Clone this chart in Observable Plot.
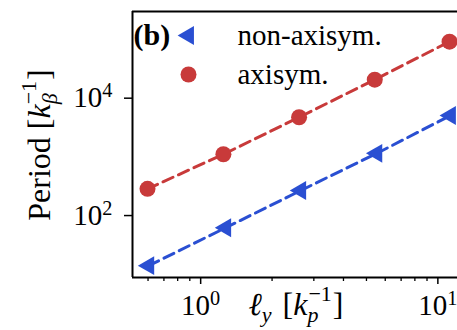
<!DOCTYPE html>
<html>
<head>
<meta charset="utf-8">
<script src="https://cdn.jsdelivr.net/npm/d3@7"></script>
<script src="https://cdn.jsdelivr.net/npm/@observablehq/plot@0.6"></script>
<style>
  html, body { margin: 0; padding: 0; background: white; overflow: hidden; }
</style>
</head>
<body>
<div id="chart"></div>
<script>
// ---- data ----
const xAxisym = [0.597, 1.247, 2.60, 5.42, 11.2];
const yAxisym = [285, 1107, 4730, 20700, 92000];
const xNonAxisym = [0.604, 1.275, 2.64, 5.53, 11.3];
const yNonAxisym = [14, 62, 267, 1150, 5060];

const legendLabels = ["non-axisym.", "axisym."];
const panelLabel = "(b)";
const xMajorTicks = [1, 10];
const xMinorTicks = [0.6, 0.7, 0.8, 0.9, 2, 3, 4, 5, 6, 7, 8, 9];
const yMajorTicks = [1e2, 1e4];
const xDomain = [0.516, 12.1];
const yDomain = [8.8, 3.0e5];

const RED = "#c83a3a";
const BLUE = "#2a4fd2";
const FONT = "Liberation Serif, DejaVu Serif, serif";

const axisym = xAxisym.map((x, i) => ({x, y: yAxisym[i]}));
const nonAxisym = xNonAxisym.map((x, i) => ({x, y: yNonAxisym[i]}));

const supFormat = d => "10^" + Math.round(Math.log10(d));

const chart = Plot.plot({
  width: 457,
  height: 330,
  marginLeft: 132,
  marginTop: 11,
  marginBottom: 53,
  marginRight: 0,
  style: {fontFamily: FONT, fontSize: "26px", color: "black", background: "white", overflow: "visible"},
  x: {type: "log", domain: xDomain},
  y: {type: "log", domain: yDomain},
  marks: [
    // frame (left, top, bottom; right side lies beyond the cropped edge)
    Plot.ruleX([xDomain[0]], {stroke: "black", strokeWidth: 2}),
    Plot.ruleY(yDomain, {stroke: "black", strokeWidth: 2}),
    // axes
    Plot.axisX({ticks: xMinorTicks, tickSize: 4, tickFormat: () => "", strokeWidth: 1.3, label: null}),
    Plot.axisX({ticks: xMajorTicks, tickSize: 7, tickPadding: 10, tickFormat: supFormat, strokeWidth: 1.5, label: null, fontSize: 29}),
    Plot.axisY({ticks: yMajorTicks, tickSize: 8, tickPadding: 12, tickFormat: supFormat, strokeWidth: 1.5, label: null, fontSize: 29}),
    // fitted dashed lines
    Plot.line(axisym, {x: "x", y: "y", stroke: RED, strokeWidth: 3, strokeDasharray: "11,6"}),
    Plot.line(nonAxisym, {x: "x", y: "y", stroke: BLUE, strokeWidth: 3, strokeDasharray: "11,6"}),
    // markers
    Plot.dot(axisym, {x: "x", y: "y", r: 8, fill: RED, stroke: "none"}),
    Plot.dot(nonAxisym, {x: "x", y: "y", r: 7, symbol: "triangle", rotate: -90, fill: BLUE, stroke: "none"}),
    // legend
    Plot.dot([legendLabels[0]], {frameAnchor: "top-left", dx: 56, dy: 24, r: 7, symbol: "triangle", rotate: -90, fill: BLUE, stroke: "none"}),
    Plot.dot([legendLabels[1]], {frameAnchor: "top-left", dx: 56, dy: 63, r: 8, fill: RED, stroke: "none"}),
    Plot.text([legendLabels[0]], {text: d => d, frameAnchor: "top-left", dx: 105, dy: 24, textAnchor: "start", lineAnchor: "middle", fontSize: 29, fontFamily: FONT}),
    Plot.text([legendLabels[1]], {text: d => d, frameAnchor: "top-left", dx: 105, dy: 63, textAnchor: "start", lineAnchor: "middle", fontSize: 29, fontFamily: FONT}),
    Plot.text([panelLabel], {text: d => d, frameAnchor: "top-left", dx: 1, dy: 24, textAnchor: "start", lineAnchor: "middle", fontSize: 30, fontWeight: "bold", fontFamily: FONT})
  ]
});

document.getElementById("chart").appendChild(chart);

const svg = d3.select(chart);
// force the serif family on every text
svg.selectAll("text").style("font-family", FONT);
svg.selectAll("g").filter(function() { return this.getAttribute("font-family"); }).attr("font-family", FONT);

// Convert "10^n" tick labels into 10 with a superscript
svg.selectAll("text").each(function() {
  const t = d3.select(this);
  if (t.selectAll("tspan").size() > 0) return;
  const s = t.text();
  const m = /^10\^(-?\d+)$/.exec(s);
  if (!m) return;
  t.text("10");
  t.append("tspan").attr("dy", "-0.5em").attr("font-size", "0.7em").text(m[1]);
});

// Axis labels with math-style sub/superscripts
function mathLabel(sel, parts) {
  parts.forEach(p => {
    const ts = sel.append("tspan").text(p.t);
    if (p.italic) ts.attr("font-style", "italic");
    if (p.size) ts.attr("font-size", p.size);
    if (p.dx != null) ts.attr("dx", p.dx);
    if (p.dy != null) ts.attr("dy", p.dy);
  });
}

const yLabel = svg.append("text")
  .attr("transform", "translate(50,145) rotate(-90)")
  .attr("text-anchor", "middle")
  .style("font-family", FONT)
  .attr("font-size", 32)
  .attr("fill", "black");
mathLabel(yLabel, [
  {t: "Period ["},
  {t: "k", italic: true},
  {t: "β", italic: true, size: 22, dy: 7},
  {t: "−1", size: 22, dx: -11, dy: -21},
  {t: "]", dy: 14, dx: 1}
]);

const xLabel = svg.append("text")
  .attr("transform", "translate(296,315)")
  .attr("text-anchor", "middle")
  .style("font-family", FONT)
  .attr("font-size", 32)
  .attr("fill", "black");
mathLabel(xLabel, [
  {t: "ℓ", italic: true},
  {t: "y", italic: true, size: 22, dy: 7},
  {t: " [", dy: -7, dx: 3},
  {t: "k", italic: true},
  {t: "p", italic: true, size: 22, dy: 7},
  {t: "−1", size: 22, dx: -10, dy: -21},
  {t: "]", dy: 14, dx: 1}
]);
</script>
</body>
</html>
